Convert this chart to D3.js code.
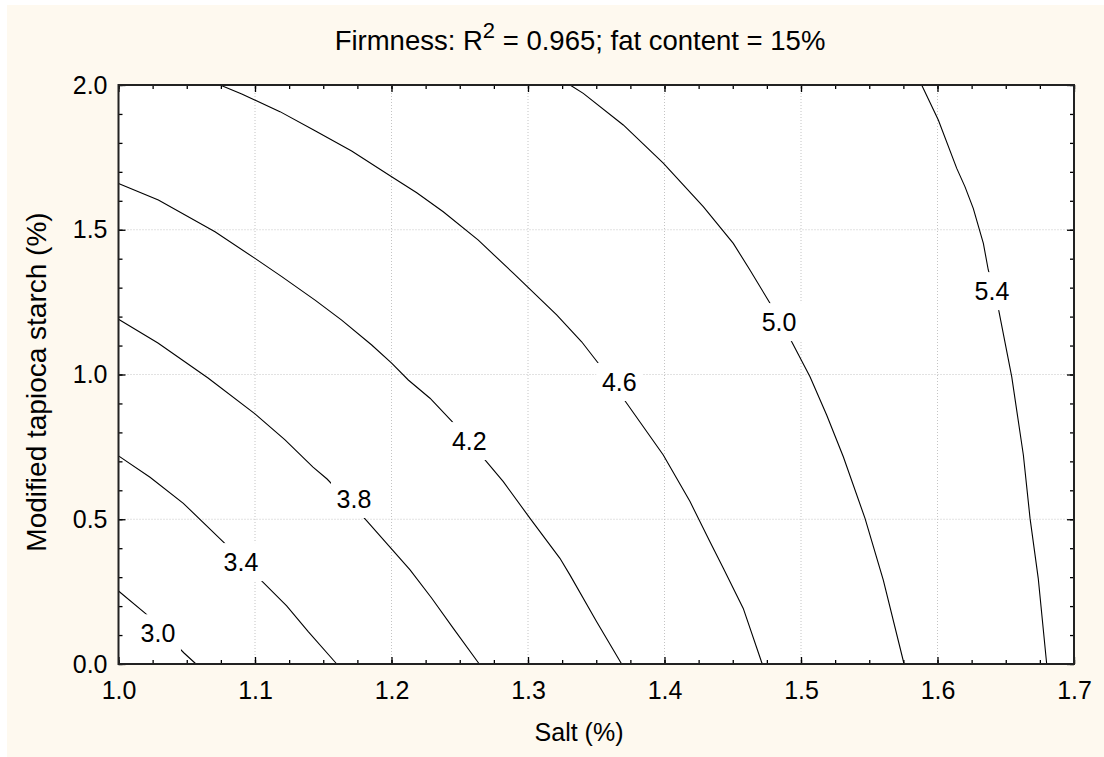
<!DOCTYPE html>
<html>
<head>
<meta charset="utf-8">
<script src="https://cdn.jsdelivr.net/npm/d3@7"></script>
<style>
  body { margin: 0; background: #ffffff; }
  text { font-family: "Liberation Sans", Arial, sans-serif; fill: #000; }
</style>
</head>
<body>
<div id="chart"></div>
<script>
// sizes
const WIDTH = 1104
const HEIGHT = 757
const MARGINS = {left: 118.5, right: 30, top: 85, bottom: 93};

// data: [salt %, starch %]
const LEVELS = ["3.0", "3.4", "3.8", "4.2", "4.6", "5.0", "5.4"];

const c30 = [[1.000, 0.252], [1.0201, 0.173], [1.0341, 0.105], [1.0480, 0.038], [1.0568, 0]];
const c34 = [[1.000, 0.719], [1.0231, 0.645], [1.0475, 0.555], [1.0773, 0.419], [1.1056, 0.284],
             [1.1232, 0.201], [1.1390, 0.112], [1.1599, 0]];
const c38 = [[1.000, 1.191], [1.0289, 1.109], [1.0656, 0.988], [1.1000, 0.864], [1.1220, 0.774],
             [1.1425, 0.680], [1.1528, 0.639], [1.1806, 0.501], [1.2136, 0.325], [1.2295, 0.227],
             [1.2453, 0.123], [1.2643, 0]];
const c42 = [[1.000, 1.660], [1.0292, 1.603], [1.0707, 1.493], [1.1000, 1.401], [1.1196, 1.338],
             [1.1440, 1.257], [1.1635, 1.188], [1.1855, 1.102], [1.2001, 1.039], [1.2123, 0.981],
             [1.2282, 0.918], [1.2441, 0.839], [1.2685, 0.705], [1.2819, 0.630], [1.3015, 0.503],
             [1.3234, 0.365], [1.3308, 0.307], [1.3503, 0.146], [1.3686, 0]];
const c46 = [[1.0744, 2.000], [1.0903, 1.969], [1.1183, 1.908], [1.1440, 1.842], [1.1708, 1.772],
             [1.2001, 1.683], [1.2185, 1.628], [1.2379, 1.562], [1.2636, 1.464], [1.2892, 1.350],
             [1.3210, 1.206], [1.3393, 1.113], [1.3515, 1.039], [1.3718, 0.904], [1.3991, 0.722],
             [1.4187, 0.561], [1.4333, 0.422], [1.4431, 0.331], [1.4577, 0.192], [1.4716, 0]];
const c50 = [[1.3308, 2.000], [1.3405, 1.971], [1.3698, 1.862], [1.3991, 1.730], [1.4284, 1.580],
             [1.4504, 1.453], [1.4626, 1.361], [1.4773, 1.246], [1.4932, 1.113], [1.5066, 0.992],
             [1.5188, 0.860], [1.5310, 0.716], [1.5469, 0.503], [1.5603, 0.290], [1.5755, 0]];
const c54 = [[1.5884, 2.000], [1.6006, 1.879], [1.6141, 1.712], [1.6201, 1.649], [1.6262, 1.574],
             [1.6336, 1.453], [1.6372, 1.361], [1.6434, 1.257], [1.6544, 0.992], [1.6629, 0.722],
             [1.6678, 0.503], [1.6738, 0.296], [1.6800, 0]];
const CONTOURS = [c30, c34, c38, c42, c46, c50, c54];

// where each level label sits
const LABEL_SALT = [1.0289, 1.0897, 1.1725, 1.2570, 1.3669, 1.4839, 1.6399];
const LABEL_STARCH = [0.106, 0.352, 0.570, 0.770, 0.974, 1.181, 1.288];

const X_TICKS = [1.0, 1.1, 1.2, 1.3, 1.4, 1.5, 1.6, 1.7];
const Y_TICKS = [0.0, 0.5, 1.0, 1.5, 2.0];

const svg = d3.select("#chart")
	.append("svg")
		.attr("width", WIDTH)
		.attr("height", HEIGHT);

// cream backdrop
svg.append("rect")
	.attr("x", 7).attr("y", 5)
	.attr("width", WIDTH - 7).attr("height", HEIGHT - 5)
	.attr("fill", "#fef9ef");

const X = d3.scaleLinear()
	.domain([1.0, 1.7])
	.range([MARGINS.left, WIDTH - MARGINS.right]);

const Y = d3.scaleLinear()
	.domain([0, 2])
	.range([HEIGHT - MARGINS.bottom, MARGINS.top]);

// plot area
svg.append("rect")
	.attr("x", X(1.0)).attr("y", Y(2))
	.attr("width", X(1.7) - X(1.0)).attr("height", Y(0) - Y(2))
	.attr("fill", "#ffffff");

// dotted grid
svg.append("g").selectAll("line")
	.data(X_TICKS.slice(1, -1))
	.enter().append("line")
		.attr("x1", d => X(d)).attr("x2", d => X(d))
		.attr("y1", Y(0)).attr("y2", Y(2))
		.attr("stroke", "#c4c4c4").attr("stroke-dasharray", "1,2");

svg.append("g").selectAll("line")
	.data(Y_TICKS.slice(1, -1))
	.enter().append("line")
		.attr("x1", X(1.0)).attr("x2", X(1.7))
		.attr("y1", d => Y(d)).attr("y2", d => Y(d))
		.attr("stroke", "#c4c4c4").attr("stroke-dasharray", "1,2");

// contour lines
const line = d3.line()
	.x(d => X(d[0]))
	.y(d => Y(d[1]));

svg.append("g").selectAll("path")
	.data(CONTOURS)
	.enter().append("path")
		.attr("d", line)
		.attr("fill", "none")
		.attr("stroke", "#000")
		.attr("stroke-width", 1.1);

// level labels with white knock-out
const labels = svg.append("g").selectAll("g")
	.data(LEVELS)
	.enter().append("g")
		.attr("transform", (d, i) => `translate(${X(LABEL_SALT[i])},${Y(LABEL_STARCH[i])})`);

labels.append("rect")
	.attr("x", -23).attr("y", -19)
	.attr("width", 46).attr("height", 38)
	.attr("fill", "#ffffff");

labels.append("text")
	.attr("text-anchor", "middle")
	.attr("dy", "0.36em")
	.style("font-size", "25px")
	.text(d => d);

// axes, ticks pointing inward on all four sides
function minorAxis(axis, scale, step, size) {
	return axis(scale).tickValues(d3.range(scale.domain()[0], scale.domain()[1] + step / 2, step))
		.tickSize(-size).tickFormat("");
}

const bottom = HEIGHT - MARGINS.bottom;
const right = WIDTH - MARGINS.right;

svg.append("g").attr("transform", `translate(0,${bottom})`).call(minorAxis(d3.axisBottom, X, 0.025, 4));
svg.append("g").attr("transform", `translate(0,${MARGINS.top})`).call(minorAxis(d3.axisTop, X, 0.025, 4));
svg.append("g").attr("transform", `translate(${MARGINS.left},0)`).call(minorAxis(d3.axisLeft, Y, 0.1, 4));
svg.append("g").attr("transform", `translate(${right},0)`).call(minorAxis(d3.axisRight, Y, 0.1, 4));

svg.append("g").attr("transform", `translate(0,${MARGINS.top})`)
	.call(d3.axisTop(X).tickValues(X_TICKS).tickSize(-7).tickFormat(""));
svg.append("g").attr("transform", `translate(${right},0)`)
	.call(d3.axisRight(Y).tickValues(Y_TICKS).tickSize(-7).tickFormat(""));

svg.append("g").attr("transform", `translate(0,${bottom})`)
	.call(d3.axisBottom(X).tickValues(X_TICKS).tickSize(-7).tickPadding(17).tickFormat(d3.format(".1f")));
svg.append("g").attr("transform", `translate(${MARGINS.left},0)`)
	.call(d3.axisLeft(Y).tickValues(Y_TICKS).tickSize(-7).tickPadding(11).tickFormat(d3.format(".1f")));

svg.selectAll(".domain").remove();
svg.selectAll(".tick line").attr("stroke", "#000").attr("stroke-width", 1.3);
svg.selectAll(".tick text")
	.style("font-size", "25px")
	.style("font-family", "'Liberation Sans', Arial, sans-serif")
	.attr("fill", "#000");

// frame
svg.append("rect")
	.attr("x", X(1.0)).attr("y", Y(2))
	.attr("width", X(1.7) - X(1.0)).attr("height", Y(0) - Y(2))
	.attr("fill", "none")
	.attr("stroke", "#222")
	.attr("stroke-width", 2);

// titles
const title = svg.append("text")
	.attr("x", 580).attr("y", 50)
	.attr("text-anchor", "middle")
	.style("font-size", "27.5px");
title.append("tspan").text("Firmness: R");
title.append("tspan").attr("dy", -12).style("font-size", "22px").text("2");
title.append("tspan").attr("dy", 12).text(" = 0.965; fat content = 15%");

svg.append("text")
	.attr("x", 579).attr("y", 741)
	.attr("text-anchor", "middle")
	.style("font-size", "25px")
	.text("Salt (%)");

svg.append("text")
	.attr("transform", "translate(46,382) rotate(-90)")
	.attr("text-anchor", "middle")
	.style("font-size", "28px")
	.text("Modified tapioca starch (%)");
</script>
</body>
</html>
